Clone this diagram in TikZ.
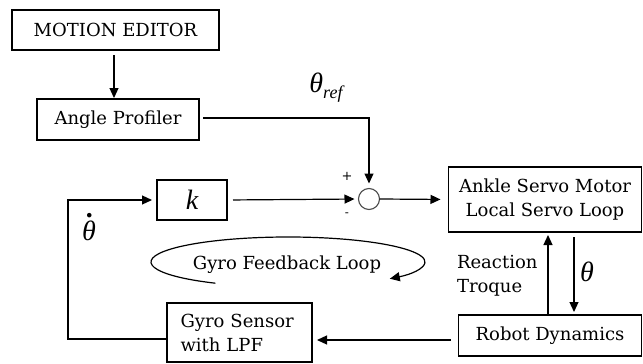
\documentclass[tikz,border=0pt]{standalone}
\usepackage{fontspec}
\setmainfont{DejaVu Serif}
\newfontfamily\symit[ItalicFont={Liberation Serif Italic}]{Liberation Serif}
\usetikzlibrary{arrows.meta}
\begin{document}
\begin{tikzpicture}[x=1pt,y=-1pt,
  line width=1.2pt,
  every node/.style={inner sep=0pt,outer sep=0pt},
  blockbox/.style={draw,rectangle,font=\fontsize{18}{24}\selectfont,align=center},
  txt/.style={font=\fontsize{18}{24}\selectfont},
  mathlbl/.style={font=\fontsize{28}{30}\selectfont\symit\itshape},
  arr/.style={-{Triangle[length=10pt,width=9pt]}},
]
\useasboundingbox (0,0) rectangle (643,364);
% blocks
\node[blockbox,minimum width=207pt,minimum height=40pt] (me) at (115.5,30) {MOTION EDITOR};
\node[blockbox,minimum width=162pt,minimum height=41pt] (ap) at (118,119.5) {Angle Profiler};
\node[blockbox,minimum width=70pt,minimum height=40pt] (k) at (192,200) {\fontsize{28}{30}\selectfont\symit\itshape k};
\node[blockbox,minimum width=193pt,minimum height=65pt] (asm) at (545,199.5) {Ankle Servo Motor\\Local Servo Loop};
\node[blockbox,minimum width=183pt,minimum height=41pt] (rd) at (550,335.5) {Robot Dynamics};
\node[blockbox,minimum width=145pt,minimum height=59pt,align=left,text width=118pt] (gs) at (239.5,332.5) {Gyro Sensor\\with LPF};
\node[draw=black!70,circle,minimum size=21pt,line width=1.1pt] (sum) at (369,199) {};
\coordinate (fbc) at (68,200);
% connectors
\draw[arr,shorten <=5pt,shorten >=1pt] ([xshift=-1.5pt]me.south) -- ([xshift=-4pt]ap.north);
\draw[arr,shorten <=4pt,shorten >=5pt] ([yshift=1.5pt]ap.east) -| (sum.north);
\draw[arr,shorten <=6pt,shorten >=4pt] (k.east) -- (sum.west);
\draw[arr,shorten >=8pt] (sum.east) -- (asm.west);
\draw[arr,shorten <=5pt,shorten >=3pt] ([xshift=29pt]asm.south) -- ([xshift=24pt]rd.north);
\draw[arr,shorten >=3pt] ([xshift=-2pt]rd.north) -- ([xshift=3pt]asm.south);
\draw[arr,shorten <=8pt,shorten >=5pt] ([yshift=-4.5pt]rd.west) -- ([yshift=-7.5pt]gs.east);
\draw[arr,shorten >=5pt] ([yshift=-6.5pt]gs.west) -| (fbc) -- (k.west);
% loop arc
\draw[arr] (288,262) ++(122:137 and 25) arc[start angle=122,end angle=402,x radius=137,y radius=25];
% labels
\node[mathlbl] (thref) at (326,88) {θ\raisebox{-6pt}{\fontsize{18}{18}\selectfont ref}};
\node[font=\fontsize{13}{13}\selectfont] (plus) at (347,176) {+};
\node[font=\fontsize{12}{12}\selectfont] (minus) at (347,215) {-};
\node[mathlbl,anchor=base] (thdot) at (89,240) {θ\llap{\raisebox{23pt}{\bfseries .}\hspace{2pt}}};
\node[mathlbl] (th) at (587,272) {θ};
\node[txt,anchor=west,align=left] (rt) at (457,276) {Reaction\\Troque};
\node[txt] (gfl) at (287,265) {Gyro Feedback Loop};
\end{tikzpicture}
\end{document}
